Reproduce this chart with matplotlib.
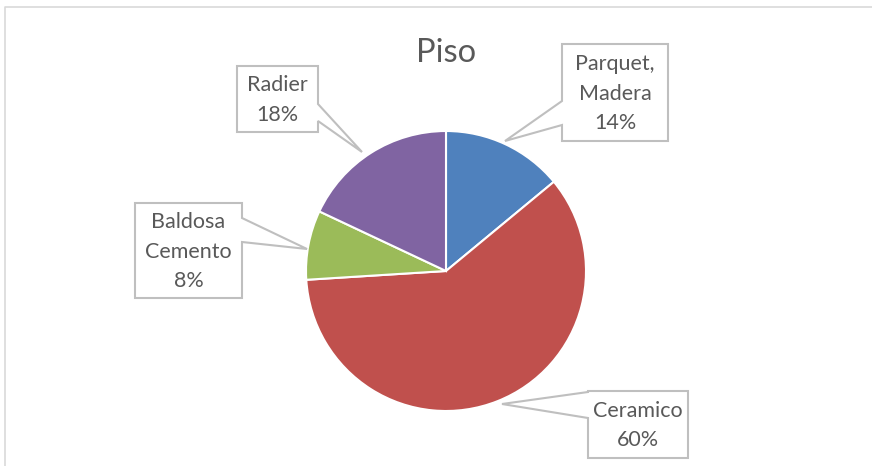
import matplotlib
matplotlib.use("Agg")
import matplotlib.pyplot as plt
from matplotlib.patches import Polygon

# data
categories = ["Parquet,\nMadera", "Ceramico", "Baldosa\nCemento", "Radier"]
shares = [14, 60, 8, 18]
colors = ["#4F81BD", "#C0504D", "#9BBB59", "#8064A2"]

W, H = 872, 466
plt.rcParams["font.family"] = ["Lato", "DejaVu Sans"]

fig = plt.figure(figsize=(W / 100, H / 100), dpi=100)
ax = fig.add_axes([0, 0, 1, 1])
ax.set_xlim(0, W)
ax.set_ylim(0, H)
ax.set_aspect("equal")
ax.axis("off")


def Y(y):
    # image row -> data y
    return H - y


# chart border
ax.plot([5, 5, W + 5], [Y(H + 5), Y(7), Y(7)], color="#D9D9D9", lw=1.2)

ax.pie(shares, colors=colors, startangle=90, counterclock=False,
       center=(446, Y(271)), radius=140,
       wedgeprops=dict(edgecolor="white", linewidth=1.5))
ax.set_xlim(0, W)
ax.set_ylim(0, H)

ax.text(446, Y(53), "Piso", ha="center", va="center", fontsize=23.5,
        color="#595959")

# callout boxes: (x0, y0, x1, y1, side, a, b, tip)
boxes = [
    (562, 44, 668, 141, "left", 101, 125, (505, 141)),
    (588, 391, 688, 458, "left", 392, 418, (502, 404)),
    (135, 203, 242, 298, "right", 218, 242, (307, 249)),
    (237, 66, 318, 132, "right", 104, 121, (362, 152)),
]

for (x0, y0, x1, y1, side, a, b, tip), name, v in zip(boxes, categories, shares):
    if side == "left":
        pts = [(x0, y0), (x1, y0), (x1, y1), (x0, y1), (x0, b), tip, (x0, a)]
    else:
        pts = [(x0, y0), (x1, y0), (x1, a), tip, (x1, b), (x1, y1), (x0, y1)]
    pts = [(px, Y(py)) for px, py in pts]
    ax.add_patch(Polygon(pts, closed=True, facecolor="white",
                         edgecolor="#BFBFBF", lw=1.5, zorder=5))
    ax.text((x0 + x1) / 2, Y((y0 + y1) / 2 + 1), f"{name}\n{v}%", ha="center",
            va="center", fontsize=15.5, color="#595959", linespacing=1.6,
            zorder=6)

fig.savefig("out.png", dpi=100)
